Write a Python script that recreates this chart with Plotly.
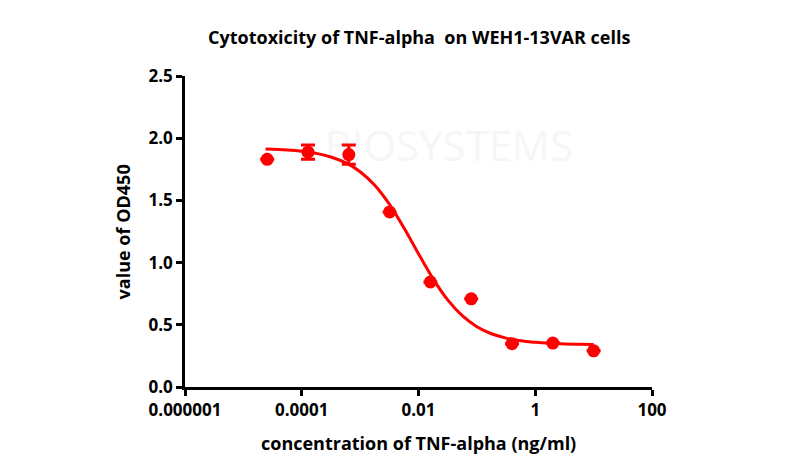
import plotly.graph_objects as go

# Measured data (5-fold dilution series)
conc = [0.0000256, 0.000128, 0.00064, 0.0032, 0.016, 0.08, 0.4, 2, 10]
od450 = [1.83, 1.888, 1.868, 1.407, 0.845, 0.709, 0.348, 0.353, 0.291]
od450_err = [None, 0.057, 0.078, None, None, None, None, None, None]

# Fitted curve
curve_conc = [0.000024, 0.0000562, 0.0001, 0.000178, 0.000316, 0.000562, 0.001,
              0.00178, 0.00316, 0.00562, 0.01, 0.0178, 0.0316, 0.0562, 0.1,
              0.178, 0.316, 0.562, 1, 1.78, 3.16, 5.62, 10]
curve_od = [1.913, 1.905, 1.895, 1.878, 1.849, 1.803, 1.730, 1.621, 1.470, 1.280,
            1.071, 0.869, 0.700, 0.573, 0.485, 0.428, 0.393, 0.371, 0.359, 0.351,
            0.346, 0.344, 0.342]

x_tickvals = [0.000001, 0.0001, 0.01, 1, 100]
x_ticktext = ["0.000001", "0.0001", "0.01", "1", "100"]

title = "Cytotoxicity of TNF-alpha  on WEH1-13VAR cells"
x_title = "concentration of TNF-alpha (ng/ml)"
y_title = "value of OD450"
watermark = "BIOSYSTEMS"

RED = "#ff0000"
FONT = "Open Sans"

fig = go.Figure()

# faint watermark, drawn beneath the data
fig.add_trace(go.Scatter(
    x=[0.033], y=[1.905], mode="text", text=[watermark],
    textposition="middle center",
    textfont=dict(family=FONT, size=42, color="#f6f6f6"),
    hoverinfo="skip", showlegend=False,
))

fig.add_trace(go.Scatter(
    x=curve_conc, y=curve_od, mode="lines",
    line=dict(color=RED, width=3, shape="spline", smoothing=1.0),
    hoverinfo="skip", showlegend=False,
))
fig.add_trace(go.Scatter(
    x=conc, y=od450, mode="markers",
    marker=dict(color=RED, size=13, line=dict(width=0)),
    error_y=dict(type="data", array=od450_err, color=RED, thickness=3, width=7),
    showlegend=False,
))

axis_common = dict(
    showline=True, linecolor="black", linewidth=2.5,
    ticks="outside", ticklen=6, tickwidth=2.5, tickcolor="black",
    showgrid=False, zeroline=False,
    tickfont=dict(family=FONT, size=17, color="black", weight="bold"),
)

fig.update_xaxes(type="log", range=[-6, 2], tickvals=x_tickvals, ticktext=x_ticktext,
                 **axis_common)
fig.update_yaxes(range=[0, 2.5], tickvals=[0, 0.5, 1.0, 1.5, 2.0, 2.5],
                 tickformat=".1f", **axis_common)

annotations = [
    dict(text=title, x=0.5, y=1.125, xref="paper", yref="paper", showarrow=False,
         xanchor="center", yanchor="middle",
         font=dict(family=FONT, size=18, color="black", weight="bold")),
    dict(text=x_title, x=0.5, y=-0.18, xref="paper", yref="paper", showarrow=False,
         xanchor="center", yanchor="middle",
         font=dict(family=FONT, size=18, color="black", weight="bold")),
    dict(text=y_title, x=-0.133, y=0.5, xref="paper", yref="paper", showarrow=False,
         xanchor="center", yanchor="middle", textangle=-90,
         font=dict(family=FONT, size=18, color="black", weight="bold")),
]

fig.update_layout(
    width=800, height=470,
    margin=dict(l=177, r=156, t=68, b=91),
    paper_bgcolor="white", plot_bgcolor="white",
    annotations=annotations,
)

fig.write_html("out.html")
